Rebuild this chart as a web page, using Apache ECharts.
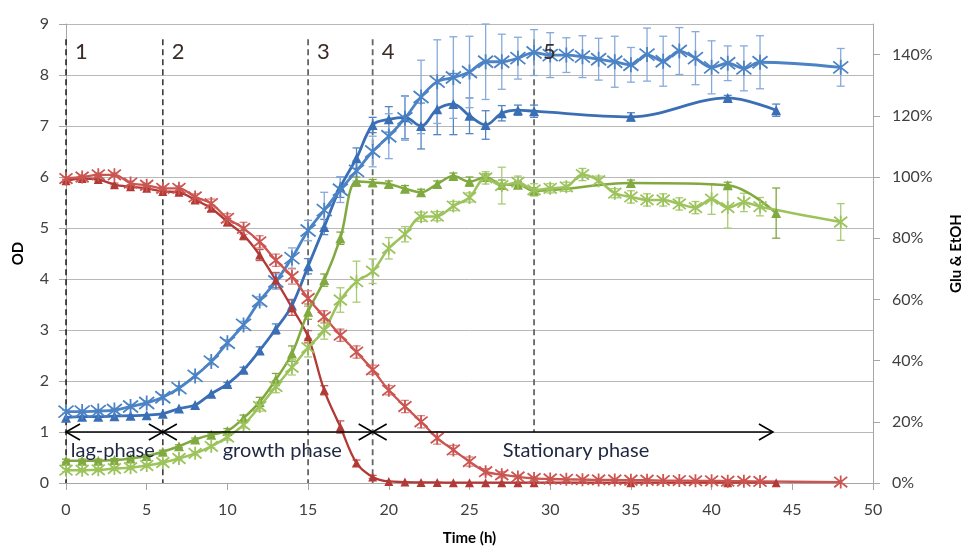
<!DOCTYPE html>
<html><head><meta charset="utf-8">
<script src="https://cdn.jsdelivr.net/npm/echarts@6/dist/echarts.min.js"></script>
<style>html,body{margin:0;padding:0;background:#fff}#c{width:964px;height:549px}</style>
</head><body><div id="c"></div><script>
// ---- Data ----
// Strain A (triangles) sampling times (h)
const timeA = [0,1,2,3,4,5,6,7,8,9,10,11,12,13,14,15,16,17,18,19,20,21,22,23,24,25,26,27,28,29,35,41,44];
// Strain B (stars) sampling times (h)
const timeB = [0,1,2,3,4,5,6,7,8,9,10,11,12,13,14,15,16,17,18,19,20,21,22,23,24,25,26,27,28,29,30,31,32,33,34,35,36,37,38,39,40,41,42,43,48];

// OD (left axis)
const odA    = [1.28,1.30,1.30,1.31,1.32,1.33,1.36,1.46,1.53,1.75,1.94,2.22,2.60,3.02,3.48,4.25,5.02,5.80,6.37,7.02,7.13,7.17,7.00,7.33,7.43,7.20,7.02,7.25,7.31,7.29,7.18,7.55,7.31];
const odAErr = [0,0,0,0,0,0,0,0,0,0,0.03,0.05,0.07,0.10,0.12,0.15,0.15,0.20,0.20,0.15,0.25,0.42,0.45,0.50,0.60,0.35,0.28,0.15,0.10,0.12,0.08,0.05,0.12];
const odB    = [1.40,1.40,1.41,1.43,1.50,1.57,1.68,1.86,2.10,2.38,2.75,3.10,3.57,3.95,4.41,4.95,5.35,5.75,6.12,6.50,6.80,7.15,7.57,7.87,7.95,8.06,8.26,8.26,8.33,8.44,8.39,8.39,8.36,8.31,8.26,8.20,8.40,8.27,8.47,8.33,8.15,8.23,8.13,8.25,8.15];
const odBErr = [0.03,0.03,0.03,0.03,0.04,0.04,0.05,0.05,0.05,0.06,0.06,0.07,0.08,0.15,0.20,0.20,0.35,0.25,0.20,0.30,0.44,0.43,0.72,0.82,0.80,0.70,0.74,0.54,0.41,0.45,0.44,0.34,0.41,0.41,0.50,0.34,0.52,0.49,0.46,0.52,0.52,0.34,0.44,0.52,0.37];

// Glucose (% , right axis)
const gluA    = [98.8,99.5,99.2,97.5,96.8,96.3,95.3,95.0,92.5,89.8,85.3,81.0,74.5,66.3,57.3,47.8,30.3,18.3,6.5,2.0,0.5,0.3,0.2,0.2,0.1,0.1,0.1,0.1,0.1,0.1,0.1,0.1,0.1];
const gluAErr = [0.5,0.5,0.5,0.5,0.5,0.5,0.6,0.6,0.8,1.0,1.2,1.5,1.8,2.5,2.5,2.0,1.5,2.0,1.0,0.5,0,0,0,0,0,0,0,0,0,0,0,0,0];
const gluB    = [99.5,100,100.7,100.7,98.0,97.3,96.3,96.3,93.5,91.3,86.5,83.2,78.8,72.8,67.5,60.3,54.3,48.3,42.8,37.0,30.3,25.0,20.0,14.7,10.8,7.0,3.7,2.7,2.0,1.5,1.3,1.2,1.1,1.0,1.0,0.9,0.9,0.8,0.8,0.7,0.7,0.6,0.6,0.5,0.3];
const gluBErr = [0.6,0.6,0.6,0.6,0.6,0.6,0.6,0.8,1,1.5,1.5,2,2,2,2.5,2.5,2,2,2,1.5,1.5,2,2,2,1.5,1.5,1,1,0.5,0.5,0,0,0,0,0,0,0,0,0,0,0,0,0,0,0];

// Ethanol (% , right axis)
const etoA    = [7.3,7.3,7.3,7.5,8.0,8.8,10.2,12.0,14.2,15.8,17.0,21.2,26.5,33.8,42.3,56.0,66.3,80.0,98.5,98.2,97.7,96.2,95.0,97.7,100.3,98.5,100.0,97.5,97.5,95.5,98.0,97.3,88.2];
const etoAErr = [0.5,0.5,0.5,0.5,0.5,0.5,0.5,0.5,0.5,0.5,0.8,1,1.5,2,2.5,2.5,2,2,1.5,1,1,1,1,1,1,1.5,1,1.5,1,1,1,1,8.2];
const etoB    = [4.2,4.2,4.3,4.7,5.0,5.7,6.7,8.0,9.7,12.0,15.0,19.0,25.0,31.5,37.8,44.2,50.0,59.8,65.8,69.2,76.7,81.3,87.0,87.2,90.5,93.3,99.7,97.2,98.3,95.8,96.3,96.8,100.8,98.8,94.7,93.5,92.5,92.5,91.2,90.0,92.8,90.0,91.7,90.3,85.3];
const etoBErr = [0.5,0.5,0.5,0.5,0.5,0.5,0.5,0.5,0.5,0.5,1,1,1.5,2,2.5,3,3,4,6.7,4,3.5,2.5,1.5,1.5,1.5,1.5,2,6,2,2,1.5,1.5,2,1.5,1.5,2,2,2,2,2,5,6.7,3,3,6];

// Axis ticks
const rightTicks = [0,20,40,60,80,100,120,140];

// Phase annotations
const phaseX      = [0, 6, 15, 19, 29];
const phaseNames  = ['1','2','3','4','5'];
const phaseBottom = [0, 0, 0, 0, 1];
const phaseTop    = 8.7;
const phaseNameY  = 8.45;
const arrowLevel  = 1;
const arrowSpans  = [[0,6],[6,19],[19,43.8]];
const arrowLabels = ['lag-phase','growth phase','Stationary phase'];
const arrowLabelX = [2.9, 13.4, 31.6];
const arrowLabelY = 0.63;

// ---- Chart ----
const FONT = 'Lato, "Open Sans", sans-serif';
const STAR = 'path://M1,1L9,9M9,1L1,9M5,0L5,10';
const C = {
  blueA:'#3a6fb5', blueB:'#4b83c5', redA:'#b23936', redB:'#cb5551', greenA:'#80a940', greenB:'#9cc35c',
  blueAe:'#5584c4', blueBe:'#86aadb', redAe:'#c05a57', redBe:'#d98582', greenAe:'#7fa63d', greenBe:'#a9cc72'
};

function lineSeries(name, xs, ys, yAxisIndex, color, symbol, size, lw, star){
  return {
    name, type:'line', yAxisIndex, smooth:0.35,
    data: xs.map((x,i)=>[x, ys[i]]),
    symbol, symbolSize:size,
    lineStyle:{color, width:lw},
    itemStyle: star ? {color:color, borderColor:color, borderWidth:1.8} : {color},
    z:4, silent:true
  };
}
function errSeries(xs, ys, es, yAxisIndex, color){
  return {
    type:'custom', yAxisIndex, silent:true, z:3,
    itemStyle:{color},
    encode:{x:0, y:[1,2]},
    data: xs.map((x,i)=>[x, ys[i]-es[i], ys[i]+es[i]]).filter(d=>d[2]-d[1]>0.0001),
    renderItem(params, api){
      const x=api.value(0), lo=api.value(1), hi=api.value(2);
      const a=api.coord([x,hi]), b=api.coord([x,lo]);
      const w=4, st={stroke:color, lineWidth:1.3};
      return {type:'group', children:[
        {type:'line', shape:{x1:a[0],y1:a[1],x2:b[0],y2:b[1]}, style:st},
        {type:'line', shape:{x1:a[0]-w,y1:a[1],x2:a[0]+w,y2:a[1]}, style:st},
        {type:'line', shape:{x1:b[0]-w,y1:b[1],x2:b[0]+w,y2:b[1]}, style:st}
      ]};
    }
  };
}

const phaseColors = ['#111','#222','#666','#666','#666'];
const phaseWidths = [1.4,1.4,1.8,1.8,1.8];

const series = [
  // phase dashed lines
  {
    type:'custom', yAxisIndex:0, silent:true, z:1, clip:false,
    encode:{x:0, y:[1,2]},
    data: phaseX.map((x,i)=>[x, phaseBottom[i], phaseTop, i]),
    renderItem(params, api){
      const x=api.value(0), lo=api.value(1), hi=api.value(2), i=api.value(3);
      const a=api.coord([x,hi]), b=api.coord([x,lo]);
      return {type:'line', shape:{x1:a[0],y1:a[1],x2:b[0],y2:b[1]}, style:{stroke:phaseColors[i], lineWidth:phaseWidths[i], lineDash:[6,4]}};
    }
  },
  errSeries(timeA, odA, odAErr, 0, C.blueAe),
  errSeries(timeB, odB, odBErr, 0, C.blueBe),
  errSeries(timeA, gluA, gluAErr, 1, C.redAe),
  errSeries(timeB, gluB, gluBErr, 1, C.redBe),
  errSeries(timeA, etoA, etoAErr, 1, C.greenAe),
  errSeries(timeB, etoB, etoBErr, 1, C.greenBe),
  lineSeries('OD A', timeA, odA, 0, C.blueA, 'triangle', 10, 2.8, false),
  lineSeries('OD B', timeB, odB, 0, C.blueB, STAR, 15, 2.8, true),
  lineSeries('Glu A', timeA, gluA, 1, C.redA, 'triangle', 9, 2.3, false),
  lineSeries('Glu B', timeB, gluB, 1, C.redB, STAR, 13, 2.3, true),
  lineSeries('EtOH A', timeA, etoA, 1, C.greenA, 'triangle', 10, 2.5, false),
  lineSeries('EtOH B', timeB, etoB, 1, C.greenB, STAR, 13, 2.5, true),
  // phase numbers (drawn on top)
  {
    type:'custom', yAxisIndex:0, silent:true, z:8, clip:false,
    encode:{x:0, y:1},
    data: phaseX.map((x,i)=>[x, phaseNameY, i]),
    renderItem(params, api){
      const t=api.coord([api.value(0), api.value(1)]);
      return {type:'text', x:t[0]+9, y:t[1], style:{text:phaseNames[api.value(2)], fill:'#3a2b25', font:'22px '+FONT, textAlign:'left', textVerticalAlign:'middle'}};
    }
  },
  // phase arrows
  {
    type:'custom', yAxisIndex:0, silent:true, z:6, clip:false,
    encode:{x:[0,1], y:2},
    data: arrowSpans.map(s=>[s[0], s[1], arrowLevel]),
    renderItem(params, api){
      const p0=api.coord([api.value(0), api.value(2)]), p1=api.coord([api.value(1), api.value(2)]);
      const L=14, H=8, st={stroke:'#000', lineWidth:1.6, fill:null};
      return {type:'group', children:[
        {type:'line', shape:{x1:p0[0],y1:p0[1],x2:p1[0],y2:p1[1]}, style:st},
        {type:'polyline', shape:{points:[[p0[0]+L,p0[1]-H],[p0[0],p0[1]],[p0[0]+L,p0[1]+H]]}, style:st},
        {type:'polyline', shape:{points:[[p1[0]-L,p1[1]-H],[p1[0],p1[1]],[p1[0]-L,p1[1]+H]]}, style:st}
      ]};
    }
  },
  // phase labels
  {
    type:'custom', yAxisIndex:0, silent:true, z:7, clip:false,
    encode:{x:0, y:1},
    data: arrowLabelX.map((x,i)=>[x, arrowLabelY, i]),
    renderItem(params, api){
      const p=api.coord([api.value(0), api.value(1)]);
      return {type:'text', x:p[0], y:p[1], style:{text:arrowLabels[api.value(2)], fill:'#1d2742', font:'20px '+FONT, textAlign:'center', textVerticalAlign:'middle'}};
    }
  }
];

const axisLabelStyle = {color:'#404040', fontSize:16, fontFamily:FONT};
const option = {
  animation:false,
  backgroundColor:'#fff',
  grid:{left:66, right:91, top:24, bottom:66, containLabel:false, outerBoundsMode:'none'},
  xAxis:{
    type:'value', min:0, max:50, interval:5,
    name:'Time (h)', nameLocation:'middle', nameGap:48,
    nameTextStyle:{fontWeight:'bold', fontSize:15, color:'#000', fontFamily:FONT},
    axisLine:{show:true, lineStyle:{color:'#a6a6a6', width:1}},
    axisTick:{show:true, length:7, lineStyle:{color:'#a6a6a6'}},
    axisLabel:Object.assign({margin:19}, axisLabelStyle),
    splitLine:{show:false}
  },
  yAxis:[
    {
      type:'value', min:0, max:9, interval:1, position:'left',
      name:'OD', nameLocation:'middle', nameGap:40, nameRotate:90,
      nameTextStyle:{fontWeight:'bold', fontSize:15, color:'#000', fontFamily:FONT},
      axisLine:{show:true, lineStyle:{color:'#a6a6a6'}},
      axisTick:{show:true, length:7, lineStyle:{color:'#a6a6a6'}},
      axisLabel:Object.assign({margin:17}, axisLabelStyle),
      splitLine:{show:true, lineStyle:{color:'#b8b8b8', width:1}}
    },
    {
      type:'value', min:0, max:150, position:'right',
      name:'Glu & EtOH', nameLocation:'middle', nameGap:76, nameRotate:90,
      nameTextStyle:{fontWeight:'bold', fontSize:15, color:'#000', fontFamily:FONT},
      axisLine:{show:true, lineStyle:{color:'#a6a6a6'}},
      axisTick:{show:true, length:7, customValues:rightTicks, lineStyle:{color:'#a6a6a6'}},
      axisLabel:Object.assign({margin:19, customValues:rightTicks, formatter:'{value}%'}, axisLabelStyle),
      splitLine:{show:false}
    }
  ],
  series
};
const chart = echarts.init(document.getElementById('c'), null, {renderer:'canvas'});
chart.setOption(option);
</script></body></html>
